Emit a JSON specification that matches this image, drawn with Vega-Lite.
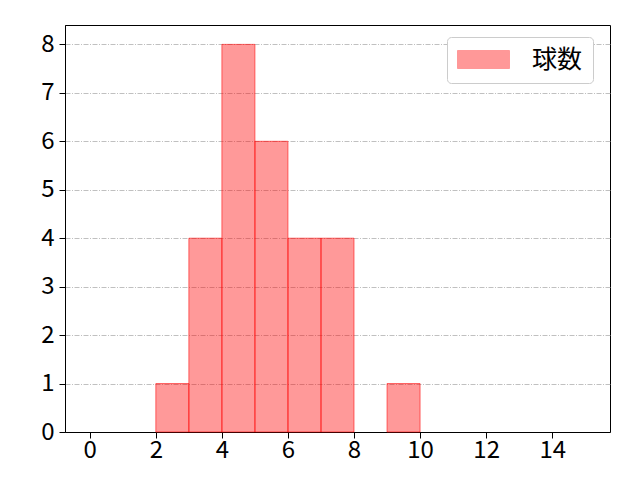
{
  "$schema": "https://vega.github.io/schema/vega-lite/v6.json",
  "autosize": {"type": "none"},
  "width": 545,
  "height": 407,
  "padding": {"left": 65, "top": 25, "right": 30, "bottom": 48},
  "background": "white",
  "config": {
    "font": "Noto Sans CJK JP",
    "view": {"stroke": "black", "strokeWidth": 1}
  },
  "data": {
    "values": [
      {"bin_start": 2, "bin_end": 3, "count": 1, "series": "球数"},
      {"bin_start": 3, "bin_end": 4, "count": 4, "series": "球数"},
      {"bin_start": 4, "bin_end": 5, "count": 8, "series": "球数"},
      {"bin_start": 5, "bin_end": 6, "count": 6, "series": "球数"},
      {"bin_start": 6, "bin_end": 7, "count": 4, "series": "球数"},
      {"bin_start": 7, "bin_end": 8, "count": 4, "series": "球数"},
      {"bin_start": 9, "bin_end": 10, "count": 1, "series": "球数"}
    ]
  },
  "mark": {"type": "rect", "fillOpacity": 0.4, "stroke": "#ff0000", "strokeOpacity": 0.55, "strokeWidth": 1},
  "encoding": {
    "x": {
      "field": "bin_start", "type": "quantitative",
      "scale": {"domain": [-0.75, 15.75], "nice": false, "zero": false},
      "axis": {"title": null, "values": [0, 2, 4, 6, 8, 10, 12, 14], "grid": false, "labelFontSize": 24, "labelColor": "black", "tickColor": "black", "domainColor": "black", "tickSize": 6, "labelPadding": 0, "labelFont": "Noto Sans CJK JP"}
    },
    "x2": {"field": "bin_end"},
    "y": {
      "field": "count", "type": "quantitative",
      "scale": {"domain": [0, 8.4], "nice": false},
      "axis": {"title": null, "values": [0, 1, 2, 3, 4, 5, 6, 7, 8], "grid": true, "gridColor": "#b0b0b0", "gridDash": [5, 1.5, 1, 1.5], "gridWidth": 0.8, "labelFontSize": 24, "labelColor": "black", "tickColor": "black", "domainColor": "black", "tickSize": 6, "labelPadding": 5, "labelFont": "Noto Sans CJK JP"}
    },
    "y2": {"datum": 0},
    "color": {
      "field": "series", "type": "nominal",
      "scale": {"range": ["#ff0000"]},
      "legend": {
        "title": null, "orient": "none", "legendX": 382, "legendY": 12,
        "symbolType": "M-1,-0.75H3.333V0.75H-1Z", "symbolSize": 576,
        "symbolOpacity": 0.4, "symbolStrokeColor": "#ff0000", "symbolStrokeWidth": 1,
        "labelFontSize": 25, "labelFont": "Noto Sans CJK JP", "labelColor": "black", "labelOffset": 50,
        "strokeColor": "#cccccc", "cornerRadius": 4, "fillColor": "white",
        "padding": 10, "rowPadding": 0
      }
    }
  }
}
